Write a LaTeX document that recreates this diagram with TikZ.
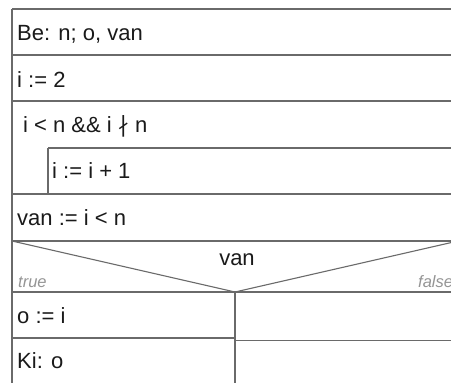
\documentclass[tikz,border=0pt]{standalone}
\usepackage{fontspec}
\setmainfont{Liberation Sans}
\newfontfamily\symfont{DejaVu Sans}
\definecolor{lineC}{HTML}{6A6A6A}
\definecolor{textC}{HTML}{1A1A1A}
\definecolor{tagC}{HTML}{959595}
\begin{document}
\begin{tikzpicture}[x=1pt,y=-1pt,
  ln/.style={draw=lineC, line width=1.1pt},
  lbl/.style={anchor=base west, inner sep=0pt, text=textC, font=\fontsize{22}{26}\selectfont},
  tag/.style={anchor=base west, inner sep=0pt, text=tagC, font=\fontsize{16.5}{19}\selectfont\itshape}]
\useasboundingbox (0,0) rectangle (451,383);
\fill[white] (0,0) rectangle (451,383);
\begin{scope}
\clip (0,0) rectangle (451,383);
% outer frame
\draw[ln] (12,9) -- (470,9);
\draw[ln] (12,9) -- (12,390);
% rows
\draw[ln] (12,55) -- (470,55);
\draw[ln] (12,101) -- (470,101);
\draw[ln] (48,148) -- (470,148);
\draw[ln] (48,148) -- (48,194);
\draw[ln] (12,194) -- (470,194);
\draw[ln] (12,241) -- (470,241);
% branch triangle
\draw[ln] (12,241) -- (235,292) -- (458,241);
\draw[ln] (12,292) -- (470,292);
\draw[ln] (235,292) -- (235,390);
\draw[ln] (12,338) -- (235,338);
\draw[ln] (235,340.5) -- (470,340.5);
% texts
\node[lbl] (be) at (17,40) {Be: n; o, van};
\node[lbl] (i2) at (17,87) {i := 2};
\node[lbl] (cond) at (23,132) {i < n \&\& i {\symfont ∤} n};
\node[lbl] (inc) at (52,178) {i := i + 1};
\node[lbl] (van) at (17,225) {van := i < n};
\node[lbl, anchor=base] (brc) at (237,265) {van};
\node[tag] (tr) at (18,287) {true};
\node[tag] (fa) at (418,287) {false};
\node[lbl] (oi) at (17,323) {o := i};
\node[lbl] (ki) at (17,368) {Ki: o};
\end{scope}
\end{tikzpicture}
\end{document}
